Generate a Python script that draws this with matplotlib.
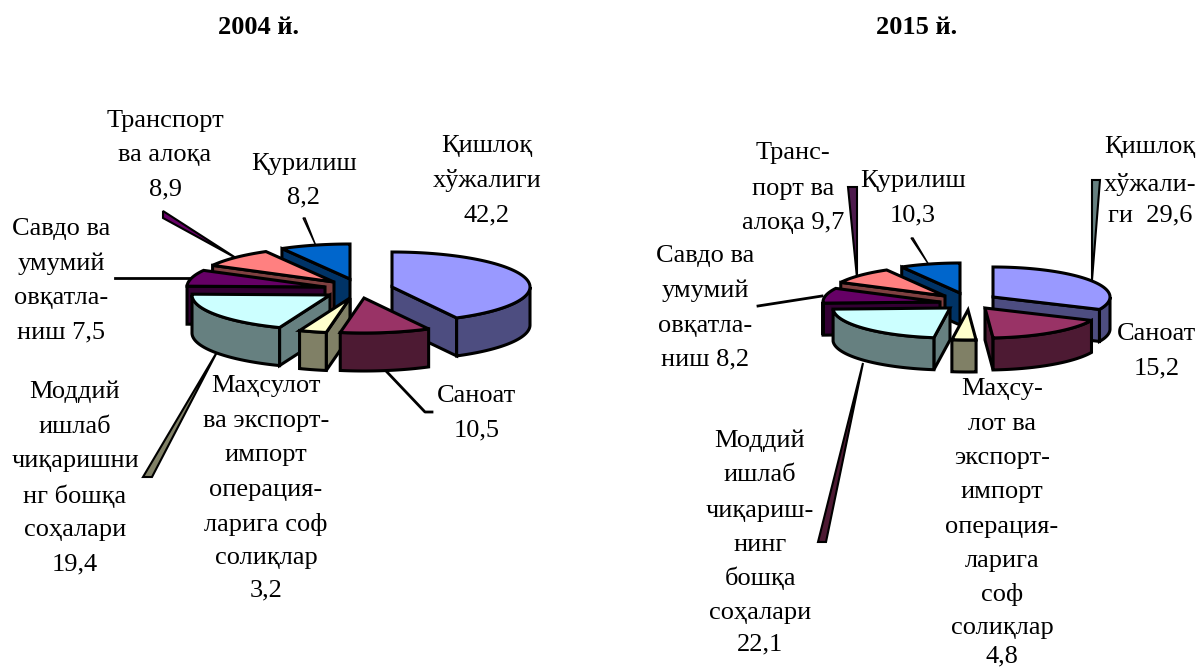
import numpy as np
import matplotlib
matplotlib.use("Agg")
import matplotlib.pyplot as plt
from matplotlib.patches import Polygon

plt.rcParams['font.family'] = ['Liberation Serif', 'DejaVu Serif']

# ---- data ----
categories = ["Қишлоқ хўжалиги", "Саноат", "Маҳсулот ва экспорт-импорт операцияларига соф солиқлар",
              "Моддий ишлаб чиқаришнинг бошқа соҳалари", "Савдо ва умумий овқатланиш",
              "Транспорт ва алоқа", "Қурилиш"]
values_2004 = [42.2, 10.5, 3.2, 19.4, 7.5, 8.9, 8.2]
values_2015 = [29.6, 15.2, 4.8, 22.1, 8.2, 9.7, 10.3]
# The 2015 slices in the picture are not drawn in proportion to their printed labels;
# these are the shares.
drawn_2015 = [31.8, 17.1, 3.3, 22.2, 8.1, 9.2, 8.3]

top_colors = ['#9999FF', '#993366', '#FFFFCC', '#CCFFFF', '#660066', '#FF8080', '#0066CC']
side_colors = ['#4D4D80', '#4D1A33', '#808066', '#668080', '#330033', '#804040', '#003366']

fig = plt.figure(figsize=(11.99, 6.68), dpi=100)
ax = fig.add_axes([0, 0, 1, 1])
ax.set_xlim(0, 1199)
ax.set_ylim(668, 0)
ax.axis('off')

LW = 2.2


def rim(apex, a, rx, ry, dz=0.0):
    t = np.radians(a)
    return np.column_stack([apex[0] + rx * np.sin(t), apex[1] - ry * np.cos(t) + dz])


def poly(pts, color, z, lw=LW):
    ax.add_patch(Polygon(pts, closed=True, facecolor=color, edgecolor='black',
                         linewidth=lw, joinstyle='miter', zorder=z))


def draw_pie(vals, apexes, rx, ry, depth, order, base_z=3):
    v = np.asarray(vals, float)
    edges = np.concatenate([[0], np.cumsum(v) / v.sum() * 360])
    for rank, i in enumerate(order):
        a1, a2 = edges[i], edges[i + 1]
        apex = apexes[i]
        z = base_z + rank * 0.1
        ap = np.array([apex])
        ap_d = ap + [0, depth]
        # radial walls
        for a, vis in ((a1, np.sin(np.radians(a1)) < 0), (a2, np.sin(np.radians(a2)) > 0)):
            if vis:
                r, rd = rim(apex, np.array([a]), rx, ry), rim(apex, np.array([a]), rx, ry, depth)
                poly(np.vstack([ap, r, rd, ap_d]), side_colors[i], z)
        # outer wall
        lo, hi = max(a1, 90), min(a2, 270)
        if hi > lo:
            aa = np.linspace(lo, hi, 60)
            poly(np.vstack([rim(apex, aa, rx, ry), rim(apex, aa[::-1], rx, ry, depth)]),
                 side_colors[i], z + 0.01)
        # top
        aa = np.linspace(a1, a2, 80)
        poly(np.vstack([ap, rim(apex, aa, rx, ry)]), top_colors[i], z + 0.02)


# slice tips on the page, in category order
apex_2004 = [(392, 287), (364, 298), (350, 298), (330, 295), (325, 287), (334, 282), (350, 279)]
apex_2015 = [(993, 297), (985, 308), (968, 310), (950, 308), (940, 302), (945, 296), (960, 293)]
paint_order = [6, 5, 4, 3, 0, 2, 1]

# leader lines
for tip, e1, e2, c, lw in [
    ((236, 258), (163, 211), (163, 218), '#660066', 1.5),
    ((217, 352), (143, 477), (152, 477), '#808066', 1.5),
    ((857, 278), (848, 187), (857, 187), '#4D1A4D', 1.5),
    ((863, 363), (818, 542), (826, 542), '#4D1A33', 1.5),
    ((1092, 280), (1092, 180), (1100, 180), '#668080', 1.5),
    ((316, 246), (303, 218), (305, 218), '#804040', 1.0),
    ((929, 265), (911, 238), (913, 238), '#804040', 1.0),
]:
    poly([tip, e1, e2], c, 2, lw=lw)
for xs, ys in [
    ((190, 115), (278, 278)),
    ((387, 425, 432), (372, 412, 412)),
    ((822, 758), (296, 306)),
]:
    ax.plot(xs, ys, color='black', lw=2.0, zorder=2)

draw_pie(values_2004, apex_2004, 138, 35, 38, paint_order)
draw_pie(drawn_2015, apex_2015, 117, 30, 32, paint_order)

# text blocks: (centre x, [(line, centre y), ...])
blocks = [
    (165, [("Транспорт", 121), ("ва алоқа", 155), ("8,9", 189)]),
    (304, [("Қурилиш", 164), ("8,2", 197)]),
    (487, [("Қишлоқ", 146), ("хўжалиги", 181), ("42,2", 215)]),
    (61, [("Савдо ва", 229), ("умумий", 264), ("овқатла-", 298), ("ниш 7,5", 332)]),
    (477, [("Саноат", 396), ("10,5", 430)]),
    (266, [("Маҳсулот", 386), ("ва экспорт-", 421), ("импорт", 455), ("операция-", 490),
           ("ларига соф", 524), ("солиқлар", 558), ("3,2", 590)]),
    (75, [("Моддий", 392), ("ишлаб", 427), ("чиқаришни", 461), ("нг бошқа", 496),
          ("соҳалари", 530), ("19,4", 564)]),
    (793, [("Транс-", 153), ("порт ва", 189), ("алоқа 9,7", 223)]),
    (913, [("Қурилиш", 181), ("10,3", 215)]),
    (1150, [("Қишлоқ", 147), ("хўжали-", 184), ("ги  29,6", 215)]),
    (705, [("Савдо ва", 256), ("умумий", 291), ("овқатла-", 326), ("ниш 8,2", 359)]),
    (1157, [("Саноат", 334), ("15,2", 368)]),
    (760, [("Моддий", 441), ("ишлаб", 475), ("чиқариш-", 511), ("нинг", 545), ("бошқа", 578),
           ("соҳалари", 613), ("22,1", 644)]),
    (1002, [("Маҳсу-", 389), ("лот ва", 424), ("экспорт-", 458), ("импорт", 492), ("операция-", 527),
            ("ларига", 561), ("соф", 594), ("солиқлар", 628), ("4,8", 656)]),
]
for x, lines in blocks:
    for s, y in lines:
        ax.text(x, y, s, ha='center', va='center', fontsize=19, color='black', zorder=10)

for x, s in [(259, "2004 й."), (917, "2015 й.")]:
    ax.text(x, 28, s, ha='center', va='center', fontsize=19, fontweight='bold', color='black', zorder=10)

fig.savefig("out.png", dpi=100, facecolor='white')
